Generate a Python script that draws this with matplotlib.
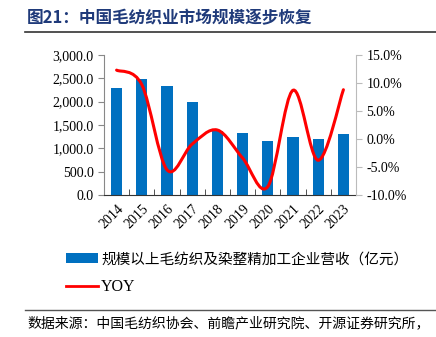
import matplotlib
matplotlib.use("Agg")
import matplotlib.pyplot as plt
import numpy as np
from matplotlib.path import Path
from matplotlib.patches import PathPatch, Patch
from matplotlib.lines import Line2D
from matplotlib.ticker import FuncFormatter, FixedLocator

years = ["2014", "2015", "2016", "2017", "2018", "2019", "2020", "2021", "2022", "2023"]
revenue = [2300, 2480, 2345, 1985, 1370, 1320, 1155, 1250, 1200, 1305]
yoy = [12.3, 9.7, -5.5, -0.9, 1.6, -3.4, -8.5, 8.7, -3.8, 8.8]

title = "图21：中国毛纺织业市场规模逐步恢复"
bar_label = "规模以上毛纺织及染整精加工企业营收（亿元）"
line_label = "YOY"
source = "数据来源：中国毛纺织协会、前瞻产业研究院、开源证券研究所，"

cjk = ["Noto Sans CJK SC", "DejaVu Sans"]
serif = ["Liberation Serif", "DejaVu Serif"]
W, H = 436, 337
fig = plt.figure(figsize=(W / 100, H / 100), dpi=100)

def fx(px):
    return px / W

def fy(py):
    return 1 - py / H

ax = fig.add_axes([fx(104), fy(195), fx(356) - fx(104), fy(55) - fy(195)])
ax2 = ax.twinx()

x = np.arange(len(years))
ax.bar(x, revenue, width=0.45, color="#0070C0", zorder=2)
ax.set_xlim(-0.5, len(years) - 0.5)
ax.set_ylim(0, 3000)
ax.set_yticks(np.arange(0, 3001, 500))
ax.yaxis.set_major_formatter(FuncFormatter(lambda v, p: f"{v:,.1f}"))
ax.set_xticks(x)
ax.set_xticklabels(years, rotation=45, ha="right", rotation_mode="anchor")
ax.xaxis.set_minor_locator(FixedLocator(np.arange(-0.5, len(years), 1.0)))
ax.tick_params(axis="x", which="major", length=0, pad=5)
ax.tick_params(axis="x", which="minor", length=4, direction="in", color="#333333")
ax.tick_params(axis="y", length=4, direction="out", color="#888888")
for lab in ax.get_xticklabels() + ax.get_yticklabels():
    lab.set_fontfamily(serif)
    lab.set_fontsize(10)
    lab.set_color("#000000")

ax2.set_ylim(-10, 15)
ax2.set_yticks(np.arange(-10, 15.1, 5))
ax2.yaxis.set_major_formatter(FuncFormatter(lambda v, p: f"{v:.1f}%"))
ax2.tick_params(axis="y", length=4, direction="out", color="#bbbbbb")
for lab in ax2.get_yticklabels():
    lab.set_fontfamily(serif)
    lab.set_fontsize(10)

for a in (ax, ax2):
    a.spines["top"].set_visible(False)
ax.spines["left"].set_color("#888888")
ax.spines["right"].set_visible(False)
ax2.spines["left"].set_visible(False)
ax2.spines["right"].set_color("#bbbbbb")
ax2.spines["bottom"].set_visible(False)
ax.spines["bottom"].set_color("#333333")

# smoothed line (Catmull-Rom -> cubic Bezier)
pts = np.column_stack([x, yoy]).astype(float)
n = len(pts)
verts = [tuple(pts[0])]
codes = [Path.MOVETO]
for i in range(n - 1):
    p0 = pts[i - 1] if i > 0 else pts[i]
    p1 = pts[i]
    p2 = pts[i + 1]
    p3 = pts[i + 2] if i + 2 < n else pts[i + 1]
    c1 = p1 + (p2 - p0) / 6.0
    c2 = p2 - (p3 - p1) / 6.0
    verts += [tuple(c1), tuple(c2), tuple(p2)]
    codes += [Path.CURVE4] * 3
path = Path(verts, codes)
ax2.add_patch(PathPatch(path, facecolor="none", edgecolor="#FF0000", lw=2.2, zorder=3, capstyle="round"))

# title
fig.text(fx(27), fy(18), title, fontsize=12, fontweight="bold", color="#1F3A7A",
         family=cjk, va="center", ha="left")
fig.add_artist(Line2D([fx(25), 1], [fy(32), fy(32)], color="#333333", lw=1.2))

# legend
handles = [Patch(facecolor="#0070C0", edgecolor="none"),
           Line2D([0], [0], color="#FF0000", lw=2)]
leg = fig.legend(handles, [bar_label, line_label], loc="upper left",
                 bbox_to_anchor=(fx(53), fy(239)), frameon=False,
                 prop={"family": cjk, "size": 10.5}, handlelength=2.2,
                 handleheight=0.6, labelspacing=0.85, handletextpad=0.2)
leg.get_texts()[1].set_fontfamily(serif)
leg.get_texts()[1].set_fontsize(11.5)

fig.add_artist(Line2D([fx(25), 1], [fy(310), fy(310)], color="#555555", lw=1.0))
fig.text(fx(27), fy(323), source, fontsize=10.0, family=cjk, va="center", ha="left", color="#000000")

fig.savefig("out.png", dpi=100)
